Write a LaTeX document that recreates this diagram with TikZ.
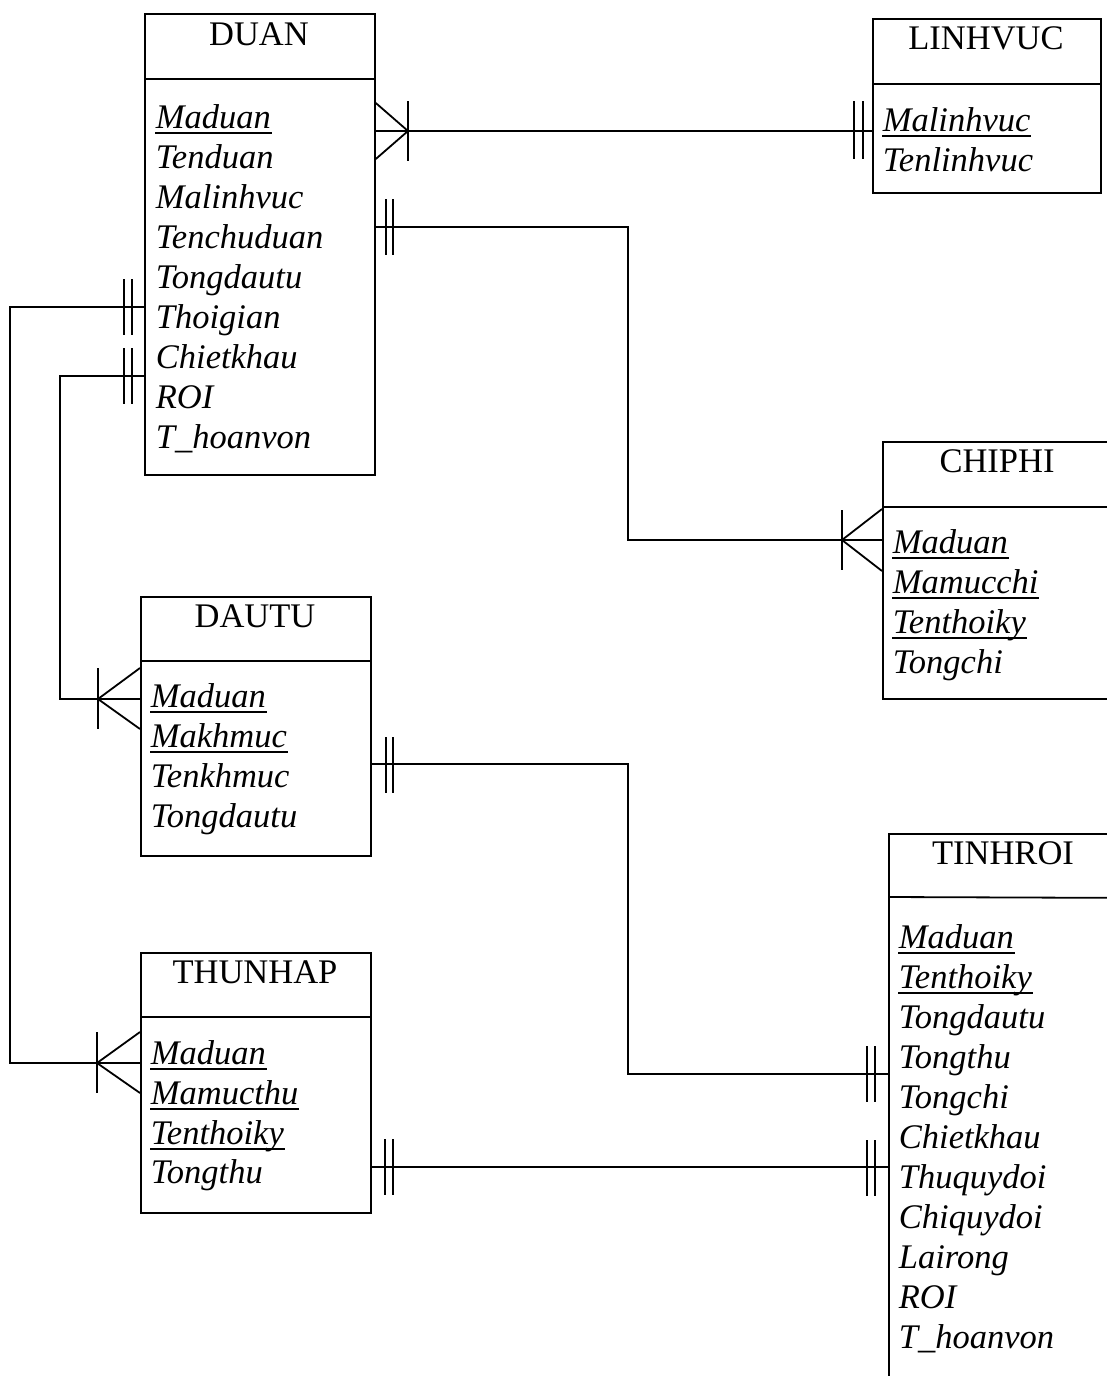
\documentclass[tikz,border=0pt]{standalone}
\usepackage{fontspec}
\setmainfont{Liberation Serif}
\begin{document}
\begin{tikzpicture}[x=1pt,y=-1pt,line width=1.8pt,
  box/.style={draw,rectangle,inner sep=0pt,anchor=north west},
  ttl/.style={anchor=base,inner sep=0pt,font=\fontsize{34.5}{40}\selectfont},
  fld/.style={anchor=base west,inner sep=0pt,font=\fontsize{34.5}{40}\selectfont\itshape},
  keyline/.style={line width=1.6pt},
  link/.style={line width=1.8pt}]
\useasboundingbox (0,0) rectangle (1107,1376);
\fill[white] (0,0) rectangle (1107,1376);
\clip (0,0) rectangle (1107,1376);

% ---------- entity boxes ----------
\node[box,minimum width=230pt,minimum height=461pt] (duan) at (144,13) {};
\draw (duan.west |- 0,79) -- (duan.east |- 0,79);
\node[ttl] (duanT) at (259,45) {DUAN};

\node[box,minimum width=228pt,minimum height=174pt] (linh) at (872,18) {};
\draw (linh.west |- 0,84) -- (linh.east |- 0,84);
\node[ttl] (linhT) at (986,49) {LINHVUC};

\node[box,minimum width=260pt,minimum height=257pt] (chip) at (882,441) {};
\draw (chip.west |- 0,507) -- (chip.east |- 0,507);
\node[ttl] (chipT) at (997,472) {CHIPHI};

\node[box,minimum width=230pt,minimum height=259pt] (dautu) at (140,596) {};
\draw (dautu.west |- 0,661) -- (dautu.east |- 0,661);
\node[ttl] (dautuT) at (255,627) {DAUTU};

\node[box,minimum width=230pt,minimum height=260pt] (thu) at (140,952) {};
\draw (thu.west |- 0,1017) -- (thu.east |- 0,1017);
\node[ttl] (thuT) at (255,983) {THUNHAP};

\node[box,minimum width=260pt,minimum height=600pt] (tinh) at (888,833) {};
\draw (tinh.west |- 0,897) -- (tinh.east |- 0,898);
\node[ttl] (tinhT) at (1003,864) {TINHROI};

% ---------- attributes ----------
% DUAN
\node[fld] (d1) at (155,128) {Maduan};
\draw[keyline] ([yshift=-5pt]d1.base west) -- ([yshift=-5pt]d1.base east);
\node[fld] (d2) at (155,168) {Tenduan};
\node[fld] (d3) at (155,208) {Malinhvuc};
\node[fld] (d4) at (155,248) {Tenchuduan};
\node[fld] (d5) at (155,288) {Tongdautu};
\node[fld] (d6) at (155,328) {Thoigian};
\node[fld] (d7) at (155,368) {Chietkhau};
\node[fld] (d8) at (155,408) {ROI};
\node[fld] (d9) at (155,448) {T\_hoanvon};

% LINHVUC
\node[fld] (l1) at (882,131) {Malinhvuc};
\draw[keyline] ([yshift=-5pt]l1.base west) -- ([yshift=-5pt]l1.base east);
\node[fld] (l2) at (882,171) {Tenlinhvuc};

% CHIPHI
\node[fld] (c1) at (892,553) {Maduan};
\node[fld] (c2) at (892,593) {Mamucchi};
\node[fld] (c3) at (892,633) {Tenthoiky};
\foreach \n in {c1,c2,c3}
  \draw[keyline] ([yshift=-5pt]\n.base west) -- ([yshift=-5pt]\n.base east);
\node[fld] (c4) at (892,673) {Tongchi};

% DAUTU
\node[fld] (u1) at (150,707) {Maduan};
\node[fld] (u2) at (150,747) {Makhmuc};
\foreach \n in {u1,u2}
  \draw[keyline] ([yshift=-5pt]\n.base west) -- ([yshift=-5pt]\n.base east);
\node[fld] (u3) at (150,787) {Tenkhmuc};
\node[fld] (u4) at (150,827) {Tongdautu};

% THUNHAP
\node[fld] (t1) at (150,1064) {Maduan};
\node[fld] (t2) at (150,1104) {Mamucthu};
\node[fld] (t3) at (150,1144) {Tenthoiky};
\foreach \n in {t1,t2,t3}
  \draw[keyline] ([yshift=-5pt]\n.base west) -- ([yshift=-5pt]\n.base east);
\node[fld] (t4) at (150,1183) {Tongthu};

% TINHROI
\node[fld] (r1) at (898,948) {Maduan};
\node[fld] (r2) at (898,988) {Tenthoiky};
\foreach \n in {r1,r2}
  \draw[keyline] ([yshift=-5pt]\n.base west) -- ([yshift=-5pt]\n.base east);
\node[fld] (r3) at (898,1028) {Tongdautu};
\node[fld] (r4) at (898,1068) {Tongthu};
\node[fld] (r5) at (898,1108) {Tongchi};
\node[fld] (r6) at (898,1148) {Chietkhau};
\node[fld] (r7) at (898,1188) {Thuquydoi};
\node[fld] (r8) at (898,1228) {Chiquydoi};
\node[fld] (r9) at (898,1268) {Lairong};
\node[fld] (r10) at (898,1308) {ROI};
\node[fld] (r11) at (898,1348) {T\_hoanvon};

% ---------- relationships ----------
% DUAN (many) -- LINHVUC (one)
\draw[link] (duan.east |- 0,131) -- (linh.west |- 0,131);
\draw[link] (duan.east |- 0,103) -- (408,131) -- (duan.east |- 0,159);
\draw[link] (408,101) -- (408,161);
\draw[link] (854,101) -- (854,159) (863,101) -- (863,159);

% DUAN (one) -- CHIPHI (many)
\draw[link] (duan.east |- 0,227) -- (628,227) -- (628,540) -- (chip.west |- 0,540);
\draw[link] (386,199) -- (386,255) (393,199) -- (393,255);
\draw[link] (chip.west |- 0,509) -- (842,540) -- (chip.west |- 0,571);
\draw[link] (842,510) -- (842,570);

% DUAN (one) -- DAUTU (many)
\draw[link] (duan.west |- 0,376) -- (60,376) -- (60,699) -- (dautu.west |- 0,699);
\draw[link] (124,348) -- (124,404) (132,348) -- (132,404);
\draw[link] (dautu.west |- 0,668) -- (98,699) -- (dautu.west |- 0,729);
\draw[link] (98,668) -- (98,729);

% DUAN (one) -- THUNHAP (many)
\draw[link] (duan.west |- 0,307) -- (10,307) -- (10,1063) -- (thu.west |- 0,1063);
\draw[link] (124,279) -- (124,335) (132,279) -- (132,335);
\draw[link] (thu.west |- 0,1032) -- (97,1063) -- (thu.west |- 0,1093);
\draw[link] (97,1032) -- (97,1093);

% DAUTU (one) -- TINHROI (one)
\draw[link] (dautu.east |- 0,764) -- (628,764) -- (628,1074) -- (tinh.west |- 0,1074);
\draw[link] (386,737) -- (386,793) (393,737) -- (393,793);
\draw[link] (867,1046) -- (867,1102) (875,1046) -- (875,1102);

% THUNHAP (one) -- TINHROI (one)
\draw[link] (thu.east |- 0,1167) -- (tinh.west |- 0,1167);
\draw[link] (385,1139) -- (385,1195) (393,1139) -- (393,1195);
\draw[link] (867,1140) -- (867,1196) (875,1140) -- (875,1196);
\end{tikzpicture}
\end{document}
